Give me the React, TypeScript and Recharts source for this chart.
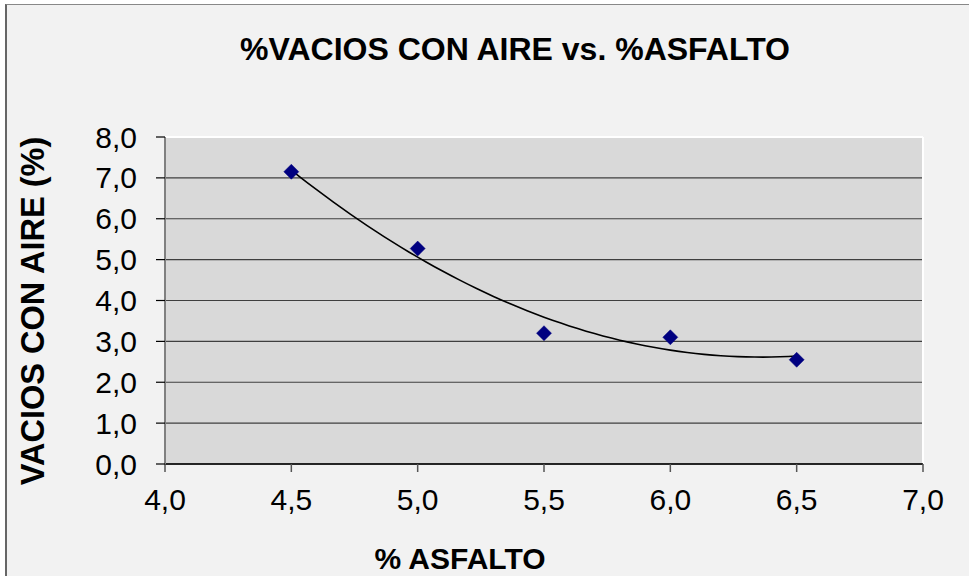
import React from "react";
import { ScatterChart, Scatter, XAxis, YAxis, CartesianGrid, ReferenceLine } from "recharts";

const asphaltPct = [4.5, 5.0, 5.5, 6.0, 6.5];
const airVoidsPct = [7.15, 5.27, 3.2, 3.1, 2.55];
const xTicks = [4.0, 4.5, 5.0, 5.5, 6.0, 6.5, 7.0];
const yTicks = [0, 1, 2, 3, 4, 5, 6, 7, 8];
const titleText = "%VACIOS CON AIRE vs. %ASFALTO";
const xLabelText = "% ASFALTO";
const yLabelText = "VACIOS CON AIRE (%)";

const points = asphaltPct.map((x, i) => ({ x, y: airVoidsPct[i] }));

// Polynomial (order 2) least-squares trendline, as in the source spreadsheet chart
function quadFit(xs: number[], ys: number[]) {
  const n = xs.length;
  let s1 = 0, s2 = 0, s3 = 0, s4 = 0, t0 = 0, t1 = 0, t2 = 0;
  for (let i = 0; i < n; i++) {
    const x = xs[i], y = ys[i];
    s1 += x; s2 += x * x; s3 += x * x * x; s4 += x * x * x * x;
    t0 += y; t1 += x * y; t2 += x * x * y;
  }
  const M = [
    [n, s1, s2, t0],
    [s1, s2, s3, t1],
    [s2, s3, s4, t2],
  ];
  for (let c = 0; c < 3; c++) {
    for (let r = c + 1; r < 3; r++) {
      const f = M[r][c] / M[c][c];
      for (let k = c; k < 4; k++) M[r][k] -= f * M[c][k];
    }
  }
  const coef = [0, 0, 0];
  for (let r = 2; r >= 0; r--) {
    let s = M[r][3];
    for (let k = r + 1; k < 3; k++) s -= M[r][k] * coef[k];
    coef[r] = s / M[r][r];
  }
  return coef;
}
const [a0, a1, a2] = quadFit(asphaltPct, airVoidsPct);
const xMin = Math.min(...asphaltPct);
const xMax = Math.max(...asphaltPct);
const trend: { x: number; y: number }[] = [];
for (let i = 0; i <= 60; i++) {
  const x = xMin + ((xMax - xMin) * i) / 60;
  trend.push({ x, y: a0 + a1 * x + a2 * x * x });
}

const FONT = "'Liberation Sans', Arial, Helvetica, sans-serif";
const fmt = (v: number) => v.toFixed(1).replace(".", ",");

const Diamond = (props: any) => {
  const { cx, cy } = props;
  const r = 7.5;
  return (
    <polygon
      points={`${cx},${cy - r} ${cx + r},${cy} ${cx},${cy + r} ${cx - r},${cy}`}
      fill="#000080"
      stroke="#000080"
      strokeWidth={0.5}
    />
  );
};

const NoShape = () => <g />;

const YTick = (props: any) => {
  const { x, y, payload } = props;
  return (
    <text x={x} y={y} textAnchor="end" dominantBaseline="central" fontFamily={FONT} fontSize={30} fill="#000">
      {fmt(payload.value)}
    </text>
  );
};

const XTick = (props: any) => {
  const { x, y, payload } = props;
  return (
    <text x={x} y={y} textAnchor="middle" dy="0.72em" fontFamily={FONT} fontSize={30} fill="#000">
      {fmt(payload.value)}
    </text>
  );
};

export default function App() {
  return (
    <div style={{ position: "absolute", left: 0, top: 0, width: 969, height: 576, background: "#fff", overflow: "hidden" }}>
      <div
        style={{
          position: "absolute",
          left: 5,
          top: 4,
          width: 1000,
          height: 1000,
          background: "#f2f2f2",
          borderLeft: "2px solid #666",
          borderTop: "1px solid #888",
        }}
      />
      <div style={{ position: "absolute", left: 0, top: 0 }}>
        <ScatterChart width={969} height={576} margin={{ top: 137, right: 46, bottom: 52, left: 105 }}>
          <CartesianGrid
            vertical={false}
            stroke="#3f3f3f"
            strokeWidth={1.2}
            fill="#d9d9d9"
            fillOpacity={1}
          />
          <ReferenceLine y={8} stroke="#ffffff" strokeWidth={2} />
          <ReferenceLine x={7} stroke="#ffffff" strokeWidth={2} />
          <XAxis
            type="number"
            dataKey="x"
            domain={[4, 7]}
            ticks={xTicks}
            interval={0}
            height={60}
            tickSize={8}
            tickMargin={16}
            axisLine={{ stroke: "#000", strokeWidth: 1.5 }}
            tickLine={{ stroke: "#555", strokeWidth: 1.5 }}
            tick={<XTick />}
            allowDataOverflow
          />
          <YAxis
            type="number"
            dataKey="y"
            domain={[0, 8]}
            ticks={yTicks}
            interval={0}
            width={60}
            tickSize={9}
            tickMargin={19}
            axisLine={{ stroke: "#808080", strokeWidth: 2 }}
            tickLine={{ stroke: "#000", strokeWidth: 1.2 }}
            tick={<YTick />}
            allowDataOverflow
          />
          <Scatter
            data={trend}
            line={{ stroke: "#000", strokeWidth: 1.6 }}
            lineType="joint"
            shape={<NoShape />}
            isAnimationActive={false}
          />
          <Scatter data={points} shape={<Diamond />} isAnimationActive={false} />
        </ScatterChart>
      </div>
      <svg width={969} height={576} style={{ position: "absolute", left: 0, top: 0, pointerEvents: "none" }}>
        <text x={515} y={60} textAnchor="middle" fontFamily={FONT} fontWeight="bold" fontSize={32} fill="#000">
          {titleText}
        </text>
        <text x={460} y={569} textAnchor="middle" fontFamily={FONT} fontWeight="bold" fontSize={30} fill="#000">
          {xLabelText}
        </text>
        <text
          x={0}
          y={0}
          transform="translate(44, 311) rotate(-90)"
          textAnchor="middle"
          fontFamily={FONT}
          fontWeight="bold"
          fontSize={32.5}
          fill="#000"
        >
          {yLabelText}
        </text>
      </svg>
    </div>
  );
}
